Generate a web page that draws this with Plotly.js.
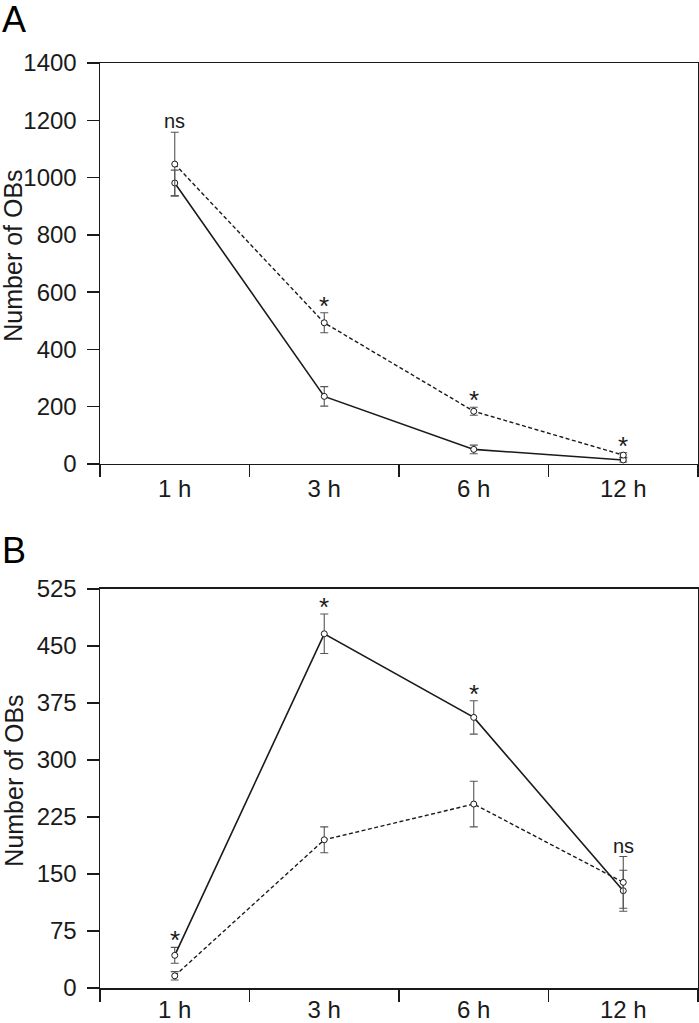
<!DOCTYPE html>
<html>
<head>
<meta charset="utf-8">
<script src="https://cdn.plot.ly/plotly-3.0.1.min.js"></script>
<style>html,body{margin:0;padding:0;background:#fff;}#chart{width:699px;height:1023px;}</style>
</head>
<body>
<div id="chart"></div>
<script>
// ---- data ----
const categories = ['1 h', '3 h', '6 h', '12 h'];

const aSolid = [981, 236, 51, 14];
const aSolidErr = [45, 34, 15, 7];
const aDashed = [1047, 493, 184, 31];
const aDashedErr = [111, 35, 14, 8];
const sigA = ['ns', '*', '*', '*'];

const bSolid = [43, 466, 356, 128];
const bSolidErr = [10.5, 26, 22, 27];
const bDashed = [16, 195, 242, 139];
const bDashedErr = [5.5, 17, 30, 34];
const sigB = ['*', '*', '*', 'ns'];

const yTicksA = [0, 200, 400, 600, 800, 1000, 1200, 1400];
const yTicksB = [0, 75, 150, 225, 300, 375, 450, 525];
const yTitle = 'Number of OBs';

// ---- styling ----
const FONT = 'Liberation Sans, Arial, Helvetica, sans-serif';
const INK = '#1a1a1a';
const DOM_A = [0.5665, 1];
const DOM_B = [0, 0.4314];

function series(y, err, dashed, xa, ya) {
  return {
    type: 'scatter', mode: 'lines+markers',
    x: categories, y: y, xaxis: xa, yaxis: ya,
    line: {color: INK, width: dashed ? 1.4 : 1.6, dash: dashed ? '4px,2.5px' : 'solid'},
    marker: {symbol: 'circle', size: 6, color: '#fff', line: {color: INK, width: 1}},
    error_y: {type: 'data', array: err, visible: true, color: '#555', thickness: 1.1, width: 4},
    showlegend: false, hoverinfo: 'skip'
  };
}

const data = [
  series(aSolid, aSolidErr, false, 'x', 'y'),
  series(aDashed, aDashedErr, true, 'x', 'y'),
  series(bSolid, bSolidErr, false, 'x2', 'y2'),
  series(bDashed, bDashedErr, true, 'x2', 'y2')
];

const annotations = [];
function sigNotes(sig, s1, e1, s2, e2, xref, yref) {
  sig.forEach((t, i) => {
    const top = Math.max(s1[i] + e1[i], s2[i] + e2[i]);
    annotations.push({
      x: categories[i], y: top, xref: xref, yref: yref,
      text: t, showarrow: false, yanchor: 'bottom',
      yshift: t === '*' ? -10 : -2,
      font: {family: FONT, size: t === '*' ? 26 : 20, color: INK}
    });
  });
}
sigNotes(sigA, aSolid, aSolidErr, aDashed, aDashedErr, 'x', 'y');
sigNotes(sigB, bSolid, bSolidErr, bDashed, bDashedErr, 'x2', 'y2');

annotations.push({xref: 'paper', yref: 'paper', x: -0.1665, y: 1.047, text: 'A', showarrow: false,
  xanchor: 'left', yanchor: 'middle', font: {family: FONT, size: 36, color: '#000'}});
annotations.push({xref: 'paper', yref: 'paper', x: -0.1665, y: 0.4725, text: 'B', showarrow: false,
  xanchor: 'left', yanchor: 'middle', font: {family: FONT, size: 36, color: '#000'}});

// y-axis titles (rotated), centred on each panel
[DOM_A, DOM_B].forEach(d => {
  annotations.push({xref: 'paper', yref: 'paper', x: -0.1445, y: (d[0] + d[1]) / 2 + 0.008,
    text: yTitle, textangle: -90, showarrow: false, xanchor: 'center', yanchor: 'middle',
    font: {family: FONT, size: 25, color: INK}});
});

function xAxis(anchor, standoff) {
  return {
    type: 'category', anchor: anchor, tickson: 'boundaries', ticks: 'outside', ticklen: 12,
    tickwidth: 1.5, tickcolor: INK, showline: true, linecolor: INK, linewidth: 1.5, mirror: true,
    showgrid: false, zeroline: false, range: [-0.5, 3.5], ticklabelstandoff: standoff,
    tickfont: {family: FONT, size: 24, color: INK}
  };
}
function yAxis(anchor, domain, ticks, maxv) {
  return {
    anchor: anchor, domain: domain, range: [0, maxv], tickvals: ticks, ticktext: ticks.map(String),
    ticks: 'outside', ticklen: 12, tickwidth: 1.5, tickcolor: INK,
    showline: true, linecolor: INK, linewidth: 1.5, mirror: true,
    showgrid: false, zeroline: false, ticklabelstandoff: 5,
    tickfont: {family: FONT, size: 24, color: INK}
  };
}

const layout = {
  width: 699, height: 1023,
  margin: {l: 100, r: 1, t: 63, b: 35},
  paper_bgcolor: '#fff', plot_bgcolor: '#fff',
  font: {family: FONT, color: INK},
  xaxis: xAxis('y', 3),
  yaxis: yAxis('x', DOM_A, yTicksA, 1400),
  xaxis2: xAxis('y2', 0),
  yaxis2: yAxis('x2', DOM_B, yTicksB, 525),
  annotations: annotations
};

Plotly.newPlot('chart', data, layout, {displayModeBar: false, staticPlot: true});
</script>
</body>
</html>
